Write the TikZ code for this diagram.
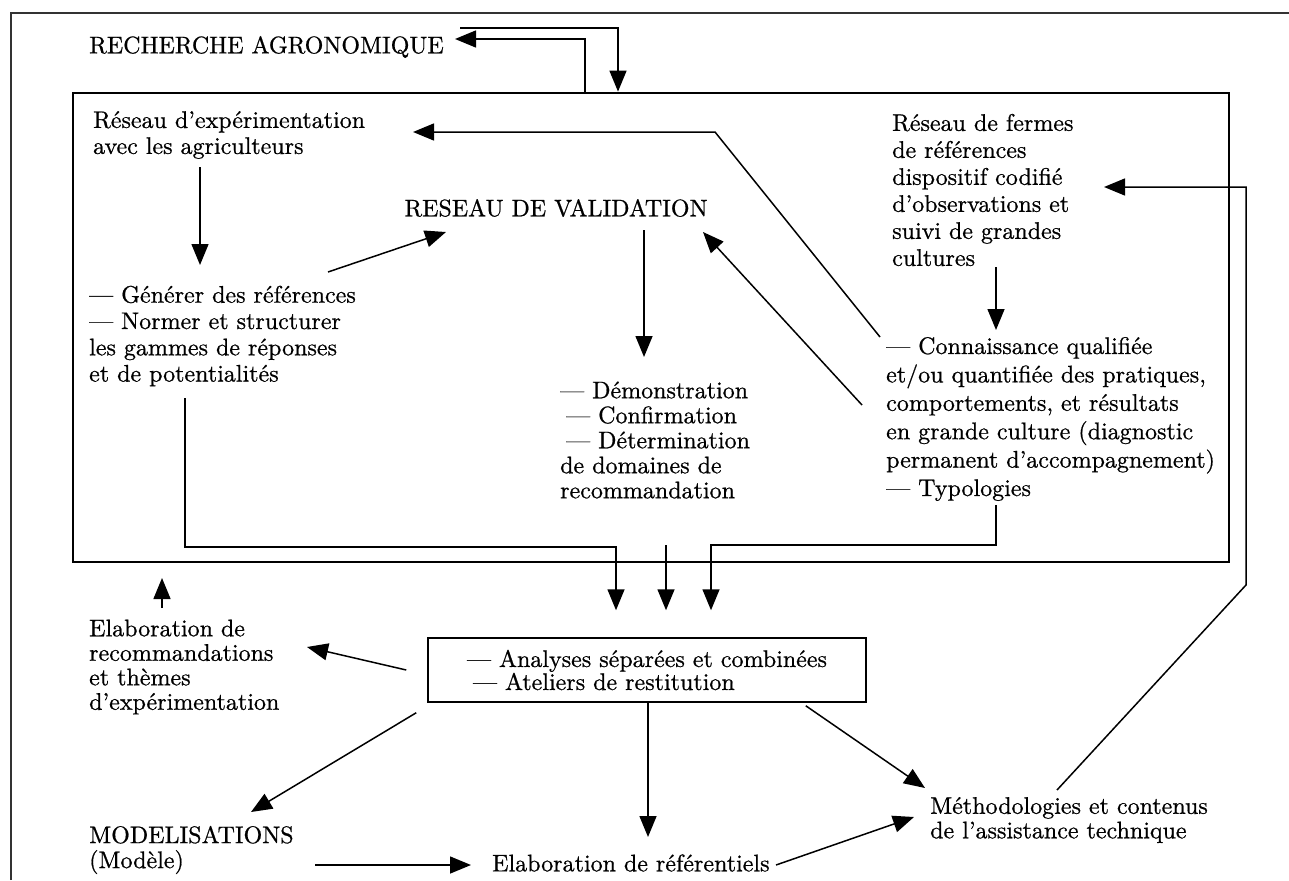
\documentclass[tikz,border=0pt]{standalone}
\usepackage{fontspec}
\setmainfont{lmroman10-regular.otf}[FakeBold=0.7]
\usepackage{tikz}
\usetikzlibrary{arrows.meta}

\begin{document}
\begin{tikzpicture}[x=1pt, y=-1pt,
    txt/.style={inner sep=0pt, anchor=west, align=left,
                font=\fontsize{24}{26}\selectfont},
    lead/.style={font=\fontsize{24}{#1}\selectfont},
    bigbox/.style={rectangle, draw, line width=2.8pt, minimum width=1156pt,
                   minimum height=469pt, inner sep=0pt},
    anabox/.style={rectangle, draw, line width=1.5pt, minimum width=438pt,
                   minimum height=64pt, align=left,
                   font=\fontsize{24}{23}\selectfont},
    arr/.style={-{Triangle[length=21pt,width=17pt]}, line width=1.5pt},
    outline/.style={line width=1.2pt, black!80}
]
    \useasboundingbox (0,0) rectangle (1289,880);
    \draw[outline] (11,880) -- (11,13) -- (1289,13);

    \node[txt]    (rech)   at (89,47)    {RECHERCHE AGRONOMIQUE};
    \node[bigbox] (reseau) at (651,327.5) {};

    \node[txt]    (rexp)   at (93,135)   {Réseau d'expérimentation\\avec les agriculteurs};
    \node[txt, lead=26.3] (gen) at (89,336)
        {— Générer des références\\— Normer et structurer\\les gammes de réponses\\et de potentialités};
    \node[txt, anchor=center] (rval) at (556,208) {RESEAU DE VALIDATION};
    \node[txt, lead=25] (demo) at (560,440)
        {— Démonstration\\\hspace*{6pt}— Confirmation\\\hspace*{6pt}— Détermination\\de domaines de\\recommandation};
    \node[txt, lead=27] (fermes) at (892,190)
        {Réseau de fermes\\de références\\dispositif codifié\\d'observations et\\suivi de grandes\\cultures};
    \node[txt, lead=28.4] (conn) at (886,419)
        {— Connaissance qualifiée\\et/ou quantifiée des pratiques,\\comportements, et résultats\\en grande culture (diagnostic\\permanent d'accompagnement)\\— Typologies};

    \node[anabox] (ana) at (647,670)
        {— Analyses séparées et combinées\\\hspace*{6pt}— Ateliers de restitution};
    \node[txt, lead=24.5] (reco) at (89,667)
        {Elaboration de\\recommandations\\et thèmes\\d'expérimentation};
    \node[txt, lead=25] (model) at (89,850) {MODELISATIONS\\(Modèle)};
    \node[txt]    (eref)   at (492,863)  {Elaboration de référentiels};
    \node[txt, lead=24.5] (metho) at (930,820)
        {Méthodologies et contenus\\de l'assistance technique};

    % links with the research
    \draw[arr] ([xshift=371pt,yshift=19pt]rech.west) -| ([xshift=-33pt]reseau.north);
    \draw[arr] ([xshift=-66pt]reseau.north) |- ([xshift=366pt,yshift=8pt]rech.west);

    % inside the network
    \draw[arr] ([xshift=107pt,yshift=-32pt]rexp.west) -- ([xshift=111pt,yshift=71pt]gen.west);
    \draw[arr] ([xshift=239pt,yshift=64pt]gen.west) -- ([xshift=-110pt,yshift=-24pt]rval.center);
    \draw[arr] ([xshift=88pt,yshift=-22pt]rval.center) -- ([xshift=84pt,yshift=83pt]demo.west);
    \draw[arr] ([xshift=-6pt,yshift=82pt]conn.west) -- ++(-165pt,205pt)
        -- ([xshift=320pt,yshift=3pt]rexp.west);
    \draw[arr] ([xshift=-24pt,yshift=14pt]conn.west) -- ([xshift=147pt,yshift=-24pt]rval.center);
    \draw[arr] ([xshift=104pt,yshift=-77pt]fermes.west) -- ([xshift=110pt,yshift=89pt]conn.west);

    % towards the analyses
    \draw[arr] ([xshift=96pt,yshift=-62pt]gen.west) -- ++(0,-149pt)
        -| ([xshift=-31pt,yshift=27pt]ana.north);
    \draw[arr] ([xshift=106pt,yshift=-105pt]demo.west) -- ([xshift=19pt,yshift=27pt]ana.north);
    \draw[arr] ([xshift=110pt,yshift=-86pt]conn.west) -- ++(0,-40pt)
        -| ([xshift=64pt,yshift=27pt]ana.north);

    % outputs
    \draw[arr] ([xshift=73pt,yshift=59pt]reco.west) -- ++(0,30pt);
    \draw[arr] ([xshift=-21pt]ana.west) -- ([xshift=218pt,yshift=20pt]reco.west);
    \draw[arr] ([xshift=-11pt,yshift=-10pt]ana.south west) -- ([xshift=162pt,yshift=38pt]model.west);
    \draw[arr] ([xshift=226pt,yshift=-15pt]model.west) -- ([xshift=-21pt,yshift=-2pt]eref.west);
    \draw[arr] ([xshift=1pt]ana.south) -- ([xshift=156pt,yshift=26pt]eref.west);
    \draw[arr] ([xshift=284pt,yshift=-2pt]eref.west) -- ([xshift=-16pt,yshift=3pt]metho.west);
    \draw[arr] ([xshift=-61pt,yshift=-3pt]ana.south east) -- ([xshift=-5pt,yshift=32pt]metho.west);
    \draw[arr] ([xshift=127pt,yshift=30pt]metho.west) -- ++(189pt,205pt)
        |- ([xshift=212pt,yshift=3pt]fermes.west);
\end{tikzpicture}
\end{document}
